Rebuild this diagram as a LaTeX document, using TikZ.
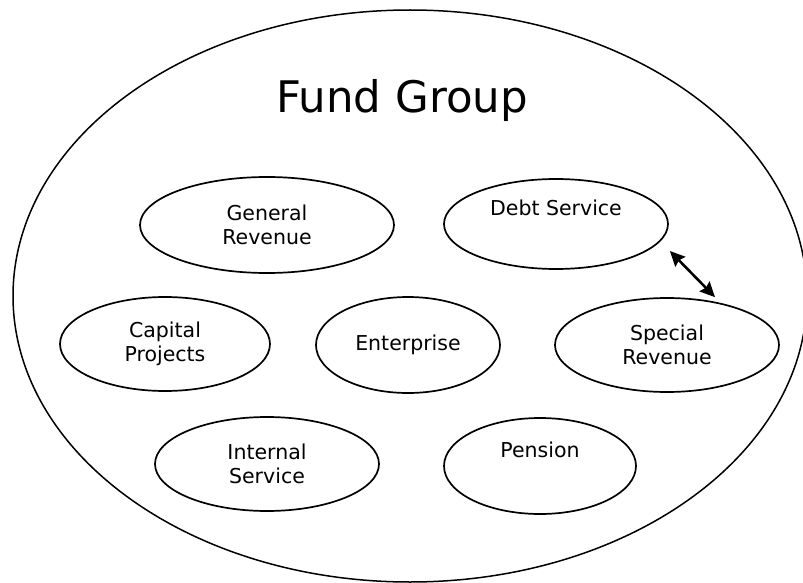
\documentclass[tikz,border=0pt]{standalone}
\usepackage{fontspec}
\setmainfont{DejaVu Sans}
\usetikzlibrary{shapes.geometric,arrows.meta}
\begin{document}
\begin{tikzpicture}[x=1pt,y=-1pt,
  fundbox/.style={draw, line width=1.7pt, ellipse, inner sep=0pt, align=center,
    font=\fontsize{20.5}{24.5}\selectfont},
  groupbox/.style={draw, line width=1.5pt, ellipse, inner sep=0pt,
    minimum width=794pt, minimum height=572pt},
  linkarrow/.style={line width=2.6pt, {Stealth[length=15pt,width=14pt,inset=2pt]}-{Stealth[length=15pt,width=14pt,inset=2pt]}}
]
\useasboundingbox (0,0) rectangle (803,583);
\node[groupbox] (group) at (410,296) {};
\node[anchor=base, font=\fontsize{43.5}{50}\selectfont] (title) at (402,113) {Fund Group};
\node[fundbox, minimum width=254pt, minimum height=96pt] (gr) at (267,225) {General\\Revenue};
\node[fundbox, minimum width=224pt, minimum height=90pt] (ds) at (556,224) {Debt Service\\\strut};
\node[fundbox, minimum width=210pt, minimum height=94pt] (cp) at (165,344) {Capital\\Projects};
\node[fundbox, minimum width=184pt, minimum height=96pt] (en) at (408,345) {Enterprise};
\node[fundbox, minimum width=224pt, minimum height=94pt] (sr) at (667,345) {Special\\Revenue};
\node[fundbox, minimum width=224pt, minimum height=94pt] (is) at (267,464) {Internal\\Service};
\node[fundbox, minimum width=192pt, minimum height=96pt] (pe) at (540,466) {Pension\\\strut};
\draw[linkarrow] ([shift={(1,27)}]ds.east) -- ([shift={(48,0)}]sr.north);
\end{tikzpicture}
\end{document}
